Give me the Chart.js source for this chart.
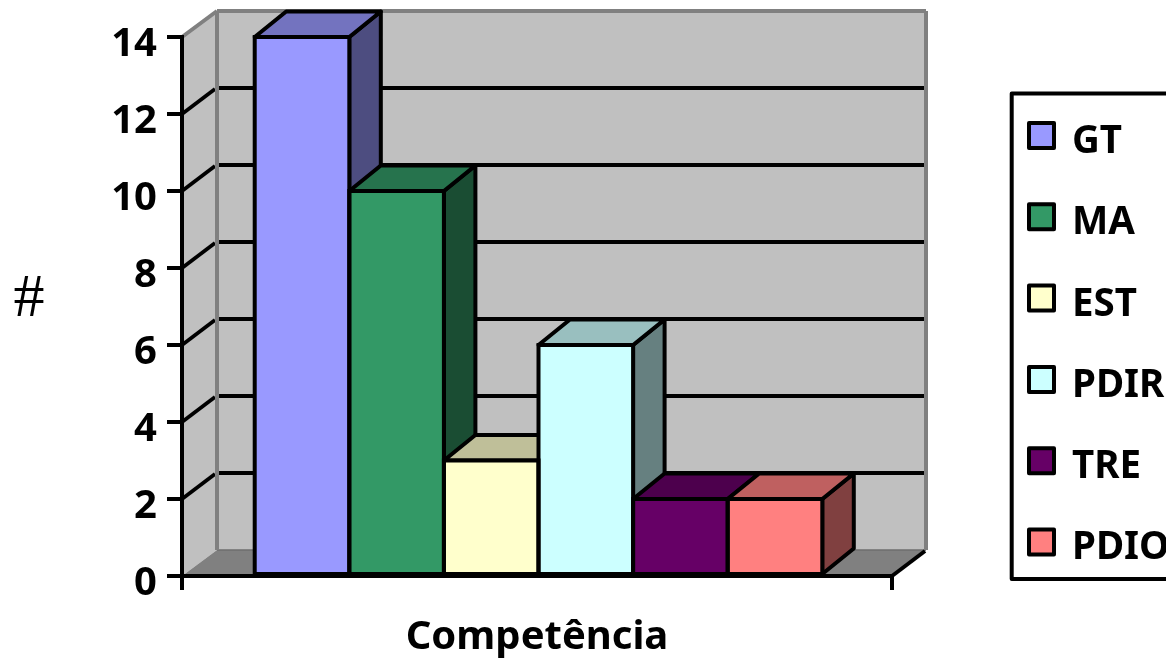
<!DOCTYPE html>
<html>
<head>
<meta charset="utf-8">
<title>Competência</title>
<script src="https://cdn.jsdelivr.net/npm/chart.js@4"></script>
<style>
  html, body { margin: 0; padding: 0; background: #fff; overflow: hidden; }
  canvas { display: block; }
</style>
</head>
<body>
<canvas id="chart" width="1166" height="659"></canvas>
<script>
// ------------------------------------------------------------
// DATA
// ------------------------------------------------------------
const categories = ["Competência"];
const seriesNames = ["GT", "MA", "EST", "PDIR", "TRE", "PDIO"];
const seriesValues = [14, 10, 3, 6, 2, 2];
const seriesColors = ["#9999FF", "#339966", "#FFFFCC", "#CCFFFF", "#660066", "#FF8080"];
const yTicks = [0, 2, 4, 6, 8, 10, 12, 14];

// ------------------------------------------------------------
// 3D LOOK (Chart.js has no 3D bars, so walls and faces are added by plugin)
// ------------------------------------------------------------
const FONT = '"Noto Sans", sans-serif';
const wallDepth = { x: 35, y: -26 };
const barDepth = { x: 31.5, y: -25.5 };
const barShift = 1.5; // the bar group sits a little right of the axis centre

// darken a #rrggbb colour by a factor
function shade(hex, f) {
    const n = parseInt(hex.slice(1), 16);
    const r = Math.round((n >> 16 & 255) * f);
    const g = Math.round((n >> 8 & 255) * f);
    const b = Math.round((n & 255) * f);
    return `rgb(${r},${g},${b})`;
}

function poly(ctx, pts, fill, stroke, width) {
    ctx.beginPath();
    pts.forEach((p, i) => i ? ctx.lineTo(p[0], p[1]) : ctx.moveTo(p[0], p[1]));
    ctx.closePath();
    if (fill) { ctx.fillStyle = fill; ctx.fill(); }
    if (stroke) { ctx.strokeStyle = stroke; ctx.lineWidth = width; ctx.stroke(); }
}

function line(ctx, x1, y1, x2, y2, color, width) {
    ctx.beginPath();
    ctx.moveTo(x1, y1);
    ctx.lineTo(x2, y2);
    ctx.strokeStyle = color;
    ctx.lineWidth = width;
    ctx.stroke();
}

// Walls, floor and gridlines go under the axes
const wallsPlugin = {
    id: "walls",
    beforeDraw(chart) {
        const { ctx, chartArea: a, scales: { y } } = chart;
        const dx = wallDepth.x, dy = wallDepth.y;
        const wallGray = "#C0C0C0", edgeGray = "#808080";
        ctx.save();
        ctx.lineJoin = "round";
        // side wall + back wall
        poly(ctx, [[a.left, a.top], [a.left + dx, a.top + dy], [a.left + dx, a.bottom + dy], [a.left, a.bottom]], wallGray);
        poly(ctx, [[a.left + dx, a.top + dy], [a.right + dx - 1, a.top + dy], [a.right + dx - 1, a.bottom + dy], [a.left + dx, a.bottom + dy]], wallGray);
        // floor
        poly(ctx, [[a.left, a.bottom], [a.left + dx, a.bottom + dy], [a.right + dx - 1, a.bottom + dy], [a.right, a.bottom]], edgeGray);
        line(ctx, a.left + dx, a.bottom + dy, a.right + dx - 1, a.bottom + dy, "#6e6e6e", 1.5);
        // gridlines on both walls
        yTicks.filter(v => v > 0 && v < 14).forEach(v => {
            const py = y.getPixelForValue(v);
            line(ctx, a.left, py, a.left + dx - 2, py + dy + 1, "#000", 3.8);
            line(ctx, a.left + dx, py + dy, a.right + dx - 2, py + dy, "#000", 3.8);
        });
        // wall edges
        line(ctx, a.left, a.top, a.left + dx, a.top + dy, edgeGray, 4);
        line(ctx, a.left + dx, a.top + dy, a.right + dx - 1, a.top + dy, edgeGray, 4);
        line(ctx, a.left + dx, a.top + dy, a.left + dx, a.bottom + dy, edgeGray, 4);
        line(ctx, a.right + dx - 1, a.top + dy, a.right + dx - 1, a.bottom + dy, edgeGray, 4);
        // front-right edge of the floor
        line(ctx, a.right, a.bottom, a.right + dx - 2, a.bottom + dy + 1, "#000", 4);
        ctx.restore();
    }
};

// Bar side and top faces go behind all the front faces, left to right
const barFacesPlugin = {
    id: "barFaces",
    afterDatasetsUpdate(chart) {
        chart.data.datasets.forEach((ds, i) => {
            chart.getDatasetMeta(i).data[0].x += barShift;
        });
    },
    beforeDatasetsDraw(chart) {
        const { ctx } = chart;
        const dx = barDepth.x, dy = barDepth.y;
        ctx.save();
        ctx.lineJoin = "round";
        chart.data.datasets.forEach((ds, i) => {
            const bar = chart.getDatasetMeta(i).data[0];
            const l = bar.x - bar.width / 2, r = bar.x + bar.width / 2;
            poly(ctx, [[r, bar.y], [r + dx, bar.y + dy], [r + dx, bar.base + dy], [r, bar.base]], shade(ds.backgroundColor, 0.5), "#000", 4);
            poly(ctx, [[l, bar.y], [l + dx, bar.y + dy], [r + dx, bar.y + dy], [r, bar.y]], shade(ds.backgroundColor, 0.75), "#000", 4);
        });
        ctx.restore();
    },
    afterDatasetsDraw(chart) {
        const { ctx } = chart;
        ctx.save();
        ctx.strokeStyle = "#000";
        ctx.lineWidth = 4;
        chart.data.datasets.forEach((ds, i) => {
            const bar = chart.getDatasetMeta(i).data[0];
            ctx.strokeRect(bar.x - bar.width / 2, bar.y, bar.width, bar.base - bar.y);
        });
        ctx.restore();
    }
};

// Legend box runs off the right side of the page, and "#" stays unrotated
const extrasPlugin = {
    id: "extras",
    afterDraw(chart) {
        const { ctx } = chart;
        ctx.save();
        ctx.strokeStyle = "#000";
        ctx.lineWidth = 4;
        ctx.lineJoin = "round";
        ctx.strokeRect(1011.7, 93.5, 200, 485.5);
        chart.data.datasets.forEach((ds, i) => {
            const cy = 135.5 + i * 81.3;
            ctx.lineWidth = 4;
            ctx.fillStyle = ds.backgroundColor;
            ctx.fillRect(1029, cy - 12.5, 25, 25);
            ctx.strokeRect(1029, cy - 12.5, 25, 25);
            ctx.fillStyle = "#000";
            ctx.font = "bold 38.5px " + FONT;
            ctx.textBaseline = "middle";
            ctx.textAlign = "left";
            ctx.fillText(ds.label, 1072, cy + 6.5);
        });
        ctx.font = '62px "Liberation Serif", serif';
        ctx.textAlign = "center";
        ctx.fillText("#", 29, 300);
        ctx.restore();
    }
};

// ------------------------------------------------------------
// INIT CHART
// ------------------------------------------------------------
new Chart(document.getElementById("chart").getContext("2d"), {
    type: "bar",
    data: {
        labels: categories,
        datasets: seriesNames.map((name, i) => ({
            label: name,
            data: [seriesValues[i]],
            backgroundColor: seriesColors[i],
            borderWidth: 0,
            categoryPercentage: 0.7994,
            barPercentage: 1
        }))
    },
    options: {
        responsive: false,
        animation: false,
        layout: { padding: { top: 37, right: 274, left: 0, bottom: 0 } },
        plugins: {
            legend: { display: false },
            tooltip: { enabled: false }
        },
        scales: {
            x: {
                afterFit(scale) { scale.height = 83; },
                border: { color: "#000", width: 4 },
                grid: { offset: true, drawOnChartArea: false, color: "#000", lineWidth: 4, tickLength: 14 },
                ticks: { callback: () => "" },
                title: {
                    display: true,
                    text: categories[0],
                    color: "#000",
                    font: { family: FONT, size: 40, weight: "bold" },
                    padding: { top: 0, bottom: -3 }
                }
            },
            y: {
                min: 0,
                max: 14,
                afterFit(scale) { scale.width = 182; },
                afterBuildTicks(scale) { scale.ticks = yTicks.map(v => ({ value: v })); },
                border: { color: "#000", width: 4 },
                grid: { drawOnChartArea: false, color: "#000", lineWidth: 4, tickLength: 15 },
                ticks: {
                    color: "#000",
                    padding: 10,
                    // blank first line pushes the digits down to sit below the tick mark
                    callback: v => ["", String(v)],
                    font: { family: FONT, size: 40, weight: "bold", lineHeight: 0.4 }
                }
            }
        }
    },
    plugins: [wallsPlugin, barFacesPlugin, extrasPlugin]
});
</script>
</body>
</html>
